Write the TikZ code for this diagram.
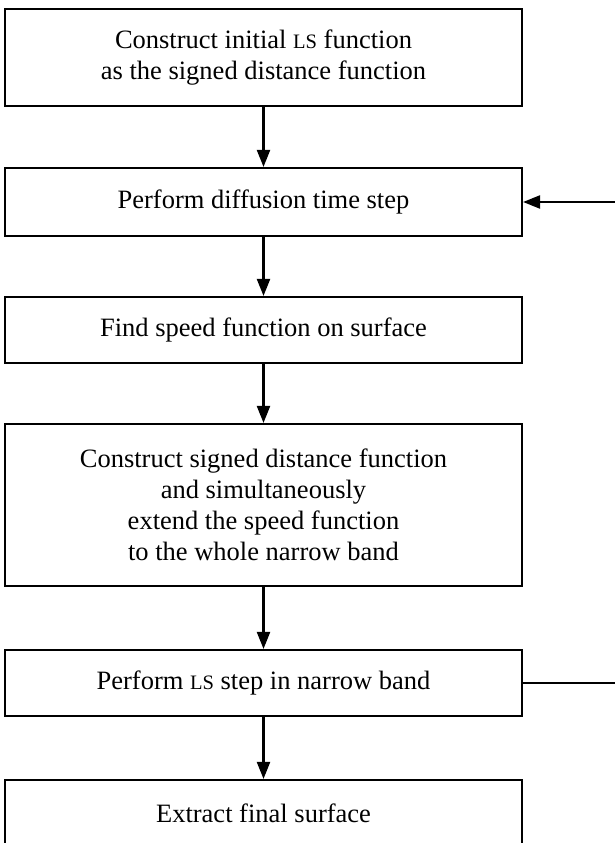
\documentclass[tikz,border=0pt]{standalone}
\usepackage{fontspec}
\setmainfont{Liberation Serif}
\usetikzlibrary{arrows.meta}
\newcommand\lsabbr{{\fontsize{20.5}{20.5}\selectfont LS}}
\tikzset{
  flowbox/.style={draw, line width=2.1pt, rectangle, minimum width=517pt, inner sep=0pt,
    align=center, font=\fontsize{26.5}{31}\selectfont},
  flowarrow/.style={line width=2.1pt, -{Triangle[length=17pt,width=13pt]}},
  flowline/.style={line width=2.1pt}
}
\begin{document}
\begin{tikzpicture}[x=1pt,y=-1pt]
\useasboundingbox (0,0) rectangle (614,843);
\node[flowbox, minimum height=97pt] (b1) at (263.5,57.5) {Construct initial \lsabbr{} function\\as the signed distance function};
\node[flowbox, minimum height=68pt] (b2) at (263.5,202) {Perform diffusion time step};
\node[flowbox, minimum height=66pt] (b3) at (263.5,330) {Find speed function on surface};
\node[flowbox, minimum height=162pt] (b4) at (263.5,505) {Construct signed distance function\\and simultaneously\\extend the speed function\\to the whole narrow band};
\node[flowbox, minimum height=66pt] (b5) at (263.5,683) {Perform \lsabbr{} step in narrow band};
\node[flowbox, minimum height=67pt] (b6) at (263.5,813.5) {Extract final surface};
\coordinate (r2) at (616,202);
\coordinate (r5) at (616,683);
\draw[flowarrow] (b1) -- (b2);
\draw[flowarrow] (b2) -- (b3);
\draw[flowarrow] (b3) -- (b4);
\draw[flowarrow] (b4) -- (b5);
\draw[flowarrow] (b5) -- (b6);
\draw[flowarrow] (r2) -- (b2.east);
\draw[flowline] (b5.east) -- (r5);
\end{tikzpicture}
\end{document}
